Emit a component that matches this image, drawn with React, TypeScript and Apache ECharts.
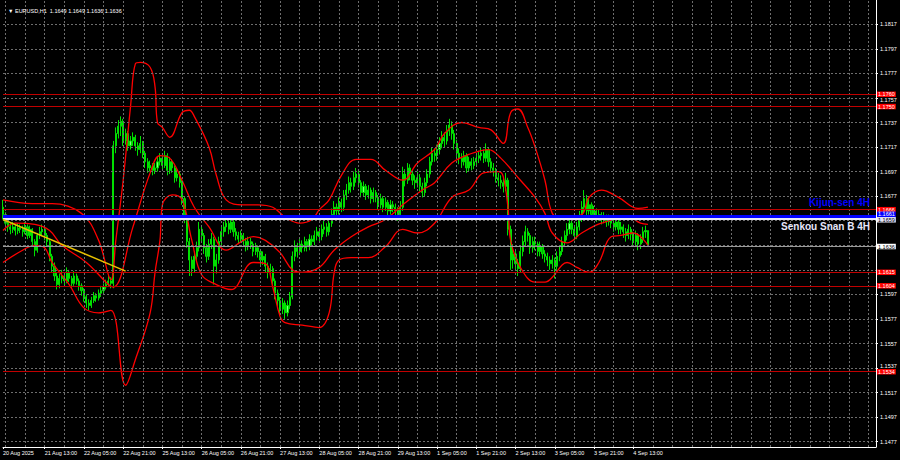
import React, { useEffect, useRef } from "react";
import * as echarts from "echarts";

const symbolTitle = "▼ EURUSD,H1  1.1649 1.1649 1.1636 1.1636";
const totalSlots = 357;
const timeLabels = ["20 Aug 2025", "21 Aug 13:00", "22 Aug 05:00", "22 Aug 21:00", "25 Aug 13:00", "26 Aug 05:00", "26 Aug 21:00", "27 Aug 13:00", "28 Aug 05:00", "28 Aug 21:00", "29 Aug 13:00", "1 Sep 05:00", "1 Sep 21:00", "2 Sep 13:00", "3 Sep 05:00", "3 Sep 21:00", "4 Sep 13:00"];
const labelBars = [0, 17, 33, 49, 65, 81, 97, 113, 129, 145, 161, 177, 193, 209, 225, 241, 257];
const gridBars = [1, 9, 17, 25, 33, 41, 49, 57, 65, 73, 81, 89, 97, 105, 113, 121, 129, 137, 145, 153, 161, 169, 177, 185, 193, 201, 209, 217, 225, 233, 241, 249, 257, 265, 273, 281, 289, 297, 305, 313, 321, 329, 337, 345, 353];
const priceTicks = [1.1477, 1.1497, 1.1517, 1.1537, 1.1557, 1.1577, 1.1597, 1.1617, 1.1637, 1.1657, 1.1677, 1.1697, 1.1717, 1.1737, 1.1757, 1.1777, 1.1797, 1.1817];
const priceLabels = [1.1477, 1.1497, 1.1517, 1.1557, 1.1577, 1.1597, 1.1677, 1.1697, 1.1717, 1.1737, 1.1777, 1.1797, 1.1817];
const squeezedLabels = [1.1757, 1.1537];

const firstOpen = 1.1668;
const closes = [
  1.1662, 1.1655, 1.1652, 1.1650, 1.1652, 1.1649, 1.1651, 1.1650,
  1.1648, 1.1652, 1.1645, 1.1650, 1.1640, 1.1633, 1.1645, 1.1648,
  1.1650, 1.1645, 1.1640, 1.1628, 1.1620, 1.1612, 1.1605, 1.1610,
  1.1612, 1.1608, 1.1615, 1.1610, 1.1606, 1.1612, 1.1608, 1.1604,
  1.1600, 1.1595, 1.1590, 1.1588, 1.1592, 1.1596, 1.1594, 1.1598,
  1.1600, 1.1603, 1.1605, 1.1608, 1.1606, 1.1718, 1.1728, 1.1734,
  1.1738, 1.1722, 1.1728, 1.1718, 1.1722, 1.1725, 1.1718, 1.1715,
  1.1720, 1.1712, 1.1705, 1.1700, 1.1702, 1.1698, 1.1700, 1.1705,
  1.1708, 1.1702, 1.1710, 1.1698, 1.1705, 1.1700, 1.1692, 1.1695,
  1.1688, 1.1675, 1.1660, 1.1640, 1.1625, 1.1618, 1.1628, 1.1635,
  1.1650, 1.1645, 1.1635, 1.1628, 1.1638, 1.1642, 1.1620, 1.1625,
  1.1640, 1.1648, 1.1652, 1.1655, 1.1650, 1.1656, 1.1648, 1.1645,
  1.1642, 1.1645, 1.1640, 1.1636, 1.1640, 1.1638, 1.1632, 1.1635,
  1.1632, 1.1625, 1.1628, 1.1620, 1.1615, 1.1618, 1.1608, 1.1598,
  1.1592, 1.1585, 1.1590, 1.1582, 1.1588, 1.1595, 1.1628, 1.1635,
  1.1632, 1.1638, 1.1635, 1.1640, 1.1636, 1.1642, 1.1640, 1.1645,
  1.1648, 1.1644, 1.1650, 1.1652, 1.1648, 1.1655, 1.1662, 1.1668,
  1.1665, 1.1672, 1.1668, 1.1678, 1.1682, 1.1688, 1.1685, 1.1692,
  1.1695, 1.1688, 1.1680, 1.1685, 1.1678, 1.1682, 1.1675, 1.1680,
  1.1676, 1.1670, 1.1675, 1.1668, 1.1672, 1.1665, 1.1670, 1.1668,
  1.1665, 1.1662, 1.1668, 1.1695, 1.1690, 1.1700, 1.1695, 1.1690,
  1.1688, 1.1692, 1.1685, 1.1680, 1.1688, 1.1695, 1.1705, 1.1712,
  1.1710, 1.1715, 1.1720, 1.1725, 1.1722, 1.1730, 1.1735, 1.1728,
  1.1720, 1.1712, 1.1708, 1.1705, 1.1710, 1.1700, 1.1705, 1.1702,
  1.1705, 1.1708, 1.1710, 1.1712, 1.1708, 1.1715, 1.1705, 1.1700,
  1.1698, 1.1692, 1.1690, 1.1688, 1.1685, 1.1690, 1.1650, 1.1625,
  1.1630, 1.1622, 1.1618, 1.1632, 1.1640, 1.1648, 1.1645, 1.1635,
  1.1640, 1.1638, 1.1632, 1.1636, 1.1630, 1.1628, 1.1625, 1.1622,
  1.1625, 1.1620, 1.1628, 1.1632, 1.1640, 1.1645, 1.1650, 1.1655,
  1.1650, 1.1645, 1.1652, 1.1660, 1.1668, 1.1675, 1.1665, 1.1670,
  1.1662, 1.1665, 1.1660, 1.1662, 1.1658, 1.1660, 1.1656, 1.1658,
  1.1655, 1.1652, 1.1656, 1.1650, 1.1652, 1.1648, 1.1645, 1.1650,
  1.1646, 1.1640, 1.1645, 1.1638, 1.1642, 1.1648, 1.1649, 1.1636,
];
const highs = [
  1.1674, 1.1664, 1.1658, 1.1655, 1.1656, 1.1654, 1.1655, 1.1654,
  1.1653, 1.1656, 1.1654, 1.1653, 1.1651, 1.1642, 1.1647, 1.1652,
  1.1654, 1.1652, 1.1647, 1.1642, 1.1630, 1.1623, 1.1615, 1.1614,
  1.1617, 1.1615, 1.1619, 1.1617, 1.1612, 1.1616, 1.1614, 1.1610,
  1.1606, 1.1602, 1.1597, 1.1593, 1.1595, 1.1599, 1.1598, 1.1601,
  1.1604, 1.1606, 1.1609, 1.1613, 1.1611, 1.1722, 1.1733, 1.1739,
  1.1742, 1.1740, 1.1732, 1.1730, 1.1726, 1.1729, 1.1727, 1.1721,
  1.1726, 1.1722, 1.1714, 1.1708, 1.1706, 1.1704, 1.1704, 1.1709,
  1.1712, 1.1710, 1.1714, 1.1712, 1.1709, 1.1707, 1.1702, 1.1699,
  1.1697, 1.1690, 1.1677, 1.1662, 1.1643, 1.1628, 1.1632, 1.1640,
  1.1656, 1.1653, 1.1647, 1.1638, 1.1642, 1.1647, 1.1644, 1.1630,
  1.1644, 1.1652, 1.1656, 1.1660, 1.1658, 1.1660, 1.1658, 1.1651,
  1.1648, 1.1649, 1.1647, 1.1643, 1.1644, 1.1643, 1.1640, 1.1639,
  1.1637, 1.1634, 1.1632, 1.1630, 1.1623, 1.1622, 1.1620, 1.1610,
  1.1601, 1.1595, 1.1594, 1.1592, 1.1592, 1.1599, 1.1632, 1.1641,
  1.1639, 1.1642, 1.1641, 1.1644, 1.1642, 1.1646, 1.1645, 1.1649,
  1.1652, 1.1651, 1.1654, 1.1657, 1.1655, 1.1659, 1.1667, 1.1673,
  1.1671, 1.1676, 1.1675, 1.1682, 1.1687, 1.1693, 1.1692, 1.1697,
  1.1700, 1.1698, 1.1690, 1.1689, 1.1687, 1.1686, 1.1684, 1.1684,
  1.1682, 1.1678, 1.1679, 1.1677, 1.1676, 1.1674, 1.1674, 1.1673,
  1.1671, 1.1668, 1.1673, 1.1701, 1.1699, 1.1704, 1.1703, 1.1698,
  1.1694, 1.1697, 1.1695, 1.1688, 1.1692, 1.1699, 1.1709, 1.1717,
  1.1716, 1.1719, 1.1725, 1.1730, 1.1729, 1.1735, 1.1740, 1.1738,
  1.1731, 1.1723, 1.1716, 1.1712, 1.1714, 1.1712, 1.1709, 1.1708,
  1.1709, 1.1712, 1.1714, 1.1717, 1.1715, 1.1720, 1.1717, 1.1708,
  1.1704, 1.1700, 1.1696, 1.1694, 1.1692, 1.1696, 1.1692, 1.1653,
  1.1638, 1.1634, 1.1626, 1.1637, 1.1645, 1.1653, 1.1651, 1.1647,
  1.1644, 1.1644, 1.1640, 1.1640, 1.1638, 1.1633, 1.1631, 1.1628,
  1.1629, 1.1627, 1.1632, 1.1636, 1.1644, 1.1649, 1.1655, 1.1659,
  1.1658, 1.1653, 1.1656, 1.1665, 1.1673, 1.1682, 1.1678, 1.1675,
  1.1672, 1.1669, 1.1667, 1.1666, 1.1664, 1.1664, 1.1662, 1.1662,
  1.1661, 1.1658, 1.1660, 1.1658, 1.1656, 1.1654, 1.1651, 1.1654,
  1.1652, 1.1648, 1.1649, 1.1647, 1.1646, 1.1652, 1.1653, 1.1649,
];
const lows = [
  1.1658, 1.1652, 1.1648, 1.1646, 1.1647, 1.1645, 1.1646, 1.1647,
  1.1644, 1.1646, 1.1642, 1.1643, 1.1637, 1.1628, 1.1631, 1.1642,
  1.1645, 1.1641, 1.1636, 1.1624, 1.1615, 1.1608, 1.1601, 1.1602,
  1.1606, 1.1604, 1.1606, 1.1607, 1.1602, 1.1604, 1.1605, 1.1600,
  1.1596, 1.1591, 1.1586, 1.1584, 1.1586, 1.1590, 1.1591, 1.1592,
  1.1595, 1.1598, 1.1601, 1.1603, 1.1602, 1.1602, 1.1712, 1.1724,
  1.1726, 1.1718, 1.1719, 1.1714, 1.1715, 1.1718, 1.1714, 1.1710,
  1.1712, 1.1708, 1.1700, 1.1696, 1.1697, 1.1694, 1.1695, 1.1697,
  1.1702, 1.1698, 1.1700, 1.1694, 1.1695, 1.1696, 1.1688, 1.1689,
  1.1684, 1.1670, 1.1655, 1.1635, 1.1612, 1.1612, 1.1615, 1.1624,
  1.1632, 1.1640, 1.1630, 1.1623, 1.1625, 1.1634, 1.1605, 1.1614,
  1.1622, 1.1637, 1.1644, 1.1648, 1.1646, 1.1647, 1.1644, 1.1641,
  1.1638, 1.1639, 1.1636, 1.1632, 1.1633, 1.1634, 1.1628, 1.1629,
  1.1627, 1.1620, 1.1621, 1.1615, 1.1610, 1.1611, 1.1603, 1.1593,
  1.1587, 1.1580, 1.1581, 1.1577, 1.1579, 1.1585, 1.1593, 1.1624,
  1.1627, 1.1629, 1.1631, 1.1632, 1.1632, 1.1633, 1.1636, 1.1637,
  1.1641, 1.1640, 1.1641, 1.1646, 1.1644, 1.1645, 1.1652, 1.1658,
  1.1660, 1.1662, 1.1664, 1.1665, 1.1674, 1.1679, 1.1680, 1.1682,
  1.1688, 1.1684, 1.1676, 1.1677, 1.1674, 1.1675, 1.1671, 1.1672,
  1.1672, 1.1666, 1.1667, 1.1664, 1.1665, 1.1661, 1.1662, 1.1664,
  1.1660, 1.1657, 1.1659, 1.1665, 1.1685, 1.1687, 1.1690, 1.1686,
  1.1683, 1.1684, 1.1681, 1.1676, 1.1677, 1.1685, 1.1692, 1.1702,
  1.1705, 1.1706, 1.1711, 1.1716, 1.1717, 1.1719, 1.1726, 1.1723,
  1.1715, 1.1708, 1.1703, 1.1700, 1.1702, 1.1696, 1.1697, 1.1698,
  1.1699, 1.1701, 1.1704, 1.1706, 1.1704, 1.1705, 1.1701, 1.1696,
  1.1693, 1.1688, 1.1685, 1.1683, 1.1680, 1.1681, 1.1645, 1.1617,
  1.1618, 1.1616, 1.1612, 1.1615, 1.1628, 1.1636, 1.1640, 1.1630,
  1.1631, 1.1633, 1.1628, 1.1628, 1.1626, 1.1623, 1.1620, 1.1617,
  1.1618, 1.1610, 1.1617, 1.1624, 1.1629, 1.1636, 1.1641, 1.1646,
  1.1646, 1.1641, 1.1642, 1.1649, 1.1656, 1.1664, 1.1661, 1.1662,
  1.1658, 1.1659, 1.1656, 1.1657, 1.1654, 1.1655, 1.1652, 1.1653,
  1.1651, 1.1648, 1.1649, 1.1646, 1.1646, 1.1643, 1.1640, 1.1642,
  1.1641, 1.1636, 1.1637, 1.1633, 1.1634, 1.1639, 1.1643, 1.1636,
];

const redLevels = [1.176, 1.175, 1.1666, 1.1615, 1.1604, 1.1534];
const kijunLevel = 1.1661;
const senkouLevel = 1.1659;
const bidLevel = 1.1636;
const trendLine = [[0, 1.1658], [50, 1.1616]];

const bandUpper = [[0,1.1674],[12,1.1671],[20,1.1671],[32,1.1663],[39,1.1641],[44,1.1609],[46,1.1641],[49,1.169],[52,1.175],[54,1.1785],[56,1.1786],[60,1.1782],[62,1.1766],[63,1.1737],[65,1.1733],[68,1.1725],[73,1.1745],[76,1.1747],[78,1.1742],[84,1.1717],[87,1.1694],[91,1.1674],[98,1.167],[104,1.167],[110,1.1668],[115,1.166],[121,1.1655],[126,1.1658],[129,1.1666],[133,1.1674],[138,1.1694],[144,1.1707],[150,1.1707],[156,1.1698],[163,1.169],[169,1.1704],[176,1.1715],[180,1.1728],[187,1.1737],[194,1.1733],[199,1.1731],[204,1.172],[207,1.1745],[210,1.1748],[214,1.1733],[217,1.1717],[221,1.169],[224,1.1663],[228,1.1659],[236,1.1662],[239,1.1676],[244,1.1682],[251,1.1676],[259,1.1667],[263,1.1668]];
const bandMiddle = [[0,1.1649],[5,1.1655],[13,1.1654],[19,1.1649],[24,1.1637],[34,1.1623],[43,1.1605],[45,1.1603],[53,1.1652],[60,1.1696],[64,1.171],[68,1.1708],[73,1.169],[78,1.1668],[84,1.1652],[91,1.1633],[98,1.1641],[102,1.1644],[107,1.1641],[113,1.1631],[118,1.1617],[122,1.1615],[129,1.1619],[135,1.1633],[142,1.1644],[149,1.1652],[156,1.1658],[163,1.167],[171,1.1682],[176,1.1688],[183,1.1704],[190,1.1711],[198,1.1715],[203,1.1708],[211,1.169],[217,1.1676],[221,1.1663],[224,1.1647],[230,1.1639],[236,1.1647],[244,1.1655],[255,1.166],[260,1.1655],[263,1.1654]];
const bandLower = [[0,1.1623],[8,1.1633],[13,1.1637],[17,1.1635],[20,1.1623],[27,1.1605],[33,1.1586],[39,1.1582],[44,1.1584],[50,1.1523],[54,1.1544],[60,1.1582],[62,1.1615],[64,1.1641],[65,1.167],[69,1.1678],[73,1.1674],[77,1.1641],[81,1.1613],[87,1.1605],[93,1.1601],[102,1.1623],[107,1.1622],[110,1.1603],[113,1.1579],[115,1.1574],[122,1.1572],[129,1.157],[133,1.1582],[135,1.1614],[137,1.1625],[142,1.1627],[149,1.1627],[156,1.1636],[163,1.165],[169,1.1647],[176,1.1655],[183,1.1676],[190,1.1682],[196,1.1696],[202,1.1697],[204,1.1693],[206,1.1666],[207,1.1641],[211,1.1619],[217,1.1607],[221,1.1607],[224,1.1611],[228,1.1621],[230,1.1623],[234,1.1619],[239,1.1615],[243,1.1623],[248,1.1644],[252,1.1645],[257,1.1647],[263,1.1637]];

export default function App() {
  const ref = useRef<HTMLDivElement>(null);
  useEffect(() => {
    if (!ref.current) return;
    const chart = echarts.init(ref.current, null, { renderer: "svg" });
    const cats: string[] = new Array(totalSlots).fill("");
    labelBars.forEach((b, k) => { cats[b] = timeLabels[k]; });
    const candles = closes.map((c, i) => {
      const o = i === 0 ? firstOpen : closes[i - 1];
      return [o, c, lows[i], highs[i]];
    });
    const labelSet = new Set(labelBars);
    const font = "Liberation Sans";
    const gridStyle = { color: "#6e6e6e", type: [2, 2], width: 1 };
    const lvlLabel = (bg: string, fg: string, dy = 0) => ({
      show: true, position: "end", distance: 1, formatter: (p: any) => Number(p.value).toFixed(4),
      backgroundColor: bg, color: fg, fontSize: 5.5, fontFamily: font, padding: [0, 1, 0, 1], lineHeight: 5.5,
      offset: [0, dy],
    });
    const curve = (data: number[][]) => ({
      type: "line", data, smooth: 0.4, showSymbol: false, symbol: "none", z: 4,
      lineStyle: { color: "#ff0000", width: 1.3 }, silent: true,
    });
    const option: any = {
      animation: false,
      backgroundColor: "#000000",
      title: { text: symbolTitle, left: 3, top: 3, textStyle: { color: "#ffffff", fontSize: 5.5, fontWeight: "normal", fontFamily: font } },
      grid: { left: 0, right: 24, top: 0, bottom: 13 },
      xAxis: {
        type: "category", data: cats, boundaryGap: false,
        axisLine: { lineStyle: { color: "#ffffff", width: 1 } },
        axisTick: { interval: (i: number) => labelSet.has(i), length: 2, lineStyle: { color: "#ffffff" } },
        axisLabel: { interval: (i: number) => labelSet.has(i), align: "left", color: "#ffffff", fontSize: 5.5, fontFamily: font, margin: 3 },
        splitLine: { show: false },
      },
      yAxis: {
        type: "value", position: "right", min: 1.14727, max: 1.18368, scale: true,
        axisLine: { show: true, lineStyle: { color: "#ffffff", width: 1 } },
        axisTick: { show: true, customValues: priceTicks, length: 2, lineStyle: { color: "#ffffff" } },
        axisLabel: { customValues: priceLabels, formatter: (v: number) => v.toFixed(4), color: "#ffffff", fontSize: 5.5, fontFamily: font, margin: 4 },
        splitLine: { show: false },
      },
      series: [
        {
          type: "line", data: [], z: 1, silent: true,
          markLine: { silent: true, symbol: "none", animation: false, precision: 5, label: { show: false },
            lineStyle: gridStyle,
            data: [
              ...priceTicks.map((v) => ({ yAxis: v })),
              ...gridBars.map((b) => ({ xAxis: b })),
            ] },
        },
        {
          type: "candlestick", data: candles, barWidth: 1.6, z: 3,
          itemStyle: { color: "#7dff7d", color0: "#00b400", borderColor: "#00e000", borderColor0: "#00e000", borderWidth: 1 },
        },
        curve(bandUpper), curve(bandMiddle), curve(bandLower),
        {
          type: "line", data: trendLine, showSymbol: false, symbol: "none", z: 5,
          lineStyle: { color: "#e8c000", width: 1.5 }, silent: true,
          markLine: {
            silent: true, symbol: "none", animation: false, precision: 5,
            data: [
              ...redLevels.map((v) => ({ yAxis: v, lineStyle: { color: "#c00000", width: 1, type: "solid" }, label: lvlLabel("#ff0000", "#ffffff") })),
              { yAxis: bidLevel, lineStyle: { color: "#9a9a9a", width: 1, type: "solid" }, label: lvlLabel("#ffffff", "#000000") },
              { yAxis: kijunLevel, lineStyle: { color: "#0000ff", width: 3, type: "solid" }, label: lvlLabel("#0000ff", "#ffffff", -1.5) },
              { yAxis: senkouLevel, lineStyle: { color: "#e6e6fa", width: 2, type: "solid" }, label: lvlLabel("#e6e6fa", "#000000", 1.5) },
            ],
          },
        },
      ],
    };
    chart.setOption(option);
    // squeezed axis labels: placed between / above the level boxes that cover their natural spot
    const py = (v: number) => chart.convertToPixel({ yAxisIndex: 0 }, v) as number;
    const ySqueezeTop = (py(redLevels[0]) + py(redLevels[1])) / 2;
    const ySqueezeBottom = py(redLevels[5]) - 5.5;
    chart.setOption({
      graphic: [
        { type: "text", x: 870, y: 197, style: { text: "Kijun-sen 4H", fill: "#0000ff", font: "bold 10px Liberation Sans", textAlign: "right" }, z: 10 },
        { type: "text", x: 870, y: 221, style: { text: "Senkou Snan B 4H", fill: "#e6e6fa", font: "bold 10px Liberation Sans", textAlign: "right" }, z: 10 },
        { type: "text", x: 880, y: ySqueezeTop, style: { text: squeezedLabels[0].toFixed(4), fill: "#ffffff", font: "5.5px Liberation Sans", textAlign: "left", textVerticalAlign: "middle" }, z: 10 },
        { type: "text", x: 880, y: ySqueezeBottom, style: { text: squeezedLabels[1].toFixed(4), fill: "#ffffff", font: "5.5px Liberation Sans", textAlign: "left", textVerticalAlign: "middle" }, z: 10 },
      ],
    });
    return () => chart.dispose();
  }, []);
  return <div ref={ref} style={{ position: "fixed", left: 0, top: 0, width: 900, height: 460, background: "#000" }} />;
}
